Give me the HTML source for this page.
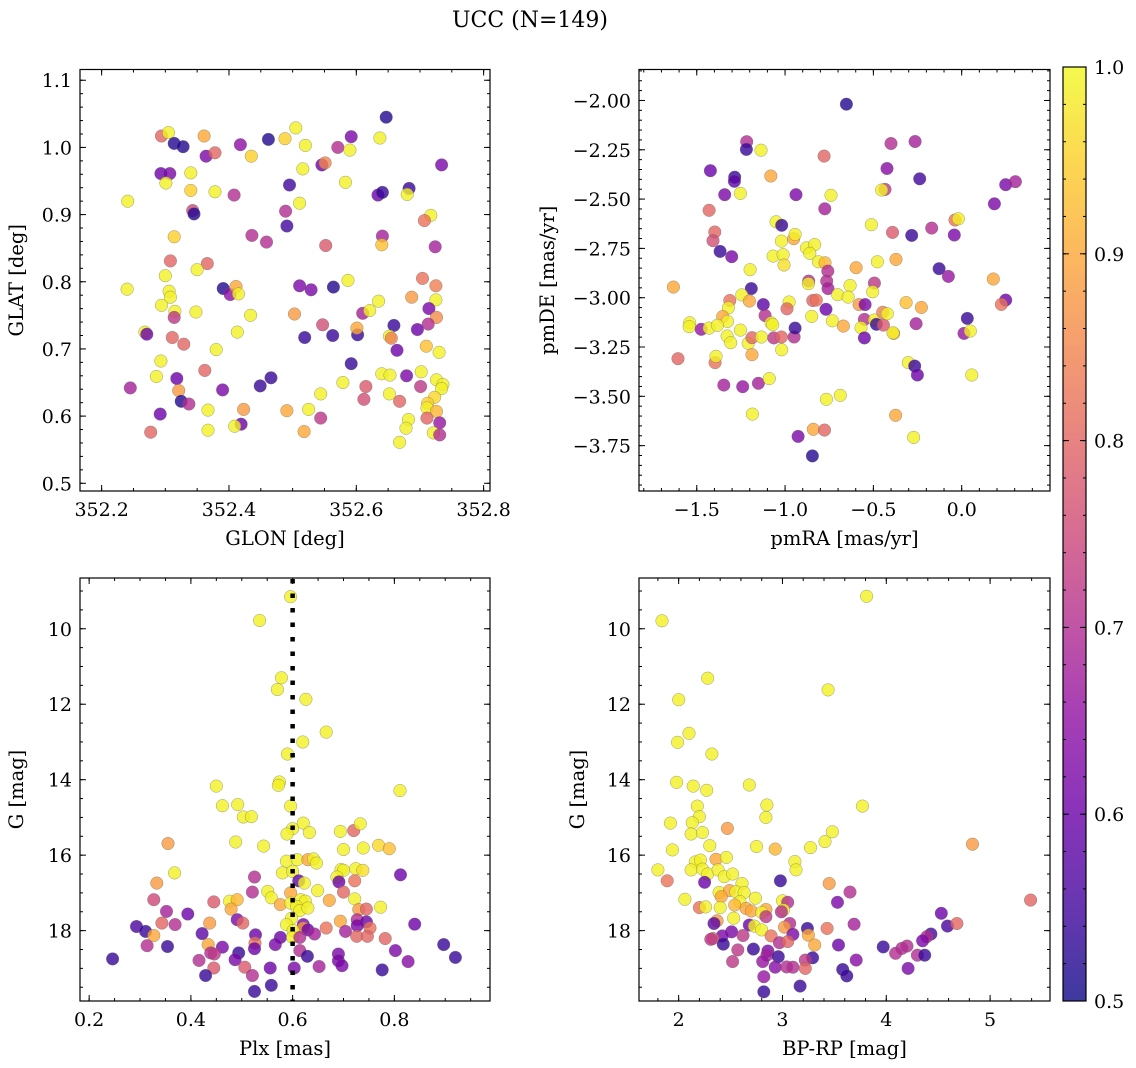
<!DOCTYPE html>
<html><head><meta charset="utf-8">
<style>
html,body{margin:0;padding:0;background:#fff;}
svg{display:block;font-family:"DejaVu Serif","Liberation Serif",serif;}
</style></head>
<body>
<svg id="fig" width="1136" height="1068" viewBox="0 0 1136 1068" xmlns="http://www.w3.org/2000/svg">
<defs>
<linearGradient id="plasma" x1="0" y1="1" x2="0" y2="0">
<stop offset="0" stop-color="#0d0887"/><stop offset="0.1" stop-color="#41049d"/><stop offset="0.2" stop-color="#6a00a8"/><stop offset="0.3" stop-color="#8f0da4"/><stop offset="0.4" stop-color="#b12a90"/><stop offset="0.5" stop-color="#cc4778"/><stop offset="0.6" stop-color="#e16462"/><stop offset="0.7" stop-color="#f2844b"/><stop offset="0.8" stop-color="#fca636"/><stop offset="0.9" stop-color="#fcce25"/><stop offset="1" stop-color="#f0f921"/>
</linearGradient>
</defs>
<text x="530" y="27" font-size="22" text-anchor="middle">UCC (N=149)</text>
</svg>
<script>
// ---- Panel 1: GLON vs GLAT ----
const p1Glon=[352.647,352.294,352.305,352.314,352.328,352.361,352.418,352.462,352.488,352.505,352.520,352.571,352.590,352.592,352.637,352.734,352.364,352.378,352.435,352.546,352.551,352.516,352.293,352.307,352.301,352.340,352.340,352.378,352.408,352.495,352.583,352.241,352.343,352.345,352.489,352.511,352.491,352.634,352.641,352.683,352.680,352.717,352.707,352.314,352.436,352.459,352.552,352.641,352.640,352.724,352.308,352.366,352.350,352.300,352.240,352.306,352.308,352.391,352.402,352.411,352.415,352.511,352.529,352.564,352.587,352.704,352.725,352.687,352.725,352.294,352.315,352.314,352.348,352.434,352.503,352.610,352.621,352.635,352.714,352.726,352.713,352.268,352.271,352.413,352.311,352.329,352.547,352.519,352.563,352.602,352.601,352.659,352.696,352.652,352.655,352.664,352.710,352.730,352.380,352.293,352.592,352.286,352.318,352.362,352.245,352.321,352.390,352.449,352.466,352.579,352.640,352.653,352.679,352.702,352.701,352.615,352.612,352.544,352.652,352.668,352.726,352.736,352.734,352.723,352.712,352.711,352.726,352.711,352.731,352.721,352.731,352.682,352.678,352.668,352.325,352.337,352.292,352.367,352.423,352.491,352.525,352.544,352.419,352.409,352.367,352.277,352.518];
const p1Glat=[1.045,1.017,1.022,1.006,1.001,1.017,1.004,1.012,1.013,1.029,1.003,1.000,0.996,1.016,1.014,0.974,0.987,0.992,0.987,0.974,0.977,0.968,0.961,0.961,0.947,0.962,0.936,0.934,0.929,0.944,0.948,0.920,0.906,0.901,0.905,0.917,0.883,0.929,0.933,0.939,0.930,0.899,0.891,0.867,0.869,0.859,0.854,0.868,0.855,0.852,0.831,0.827,0.818,0.809,0.789,0.786,0.777,0.790,0.781,0.793,0.782,0.794,0.788,0.792,0.802,0.805,0.794,0.777,0.773,0.765,0.756,0.747,0.755,0.750,0.752,0.753,0.757,0.771,0.760,0.747,0.737,0.725,0.722,0.725,0.717,0.707,0.736,0.717,0.720,0.721,0.731,0.735,0.729,0.719,0.716,0.698,0.704,0.695,0.699,0.682,0.678,0.659,0.656,0.668,0.642,0.638,0.639,0.645,0.657,0.650,0.663,0.661,0.660,0.666,0.644,0.644,0.625,0.633,0.633,0.622,0.654,0.647,0.641,0.628,0.619,0.612,0.607,0.597,0.590,0.575,0.572,0.595,0.582,0.561,0.622,0.618,0.603,0.609,0.610,0.608,0.610,0.597,0.588,0.585,0.579,0.576,0.577];
const p1Prob=[0.52,0.8,0.99,0.52,0.52,0.9,0.65,0.52,0.95,0.99,0.99,0.7,0.99,0.62,0.99,0.62,0.62,0.8,0.95,0.6,0.85,0.99,0.6,0.62,0.99,0.99,0.95,0.99,0.7,0.55,0.99,0.99,0.75,0.52,0.7,0.99,0.55,0.6,0.54,0.54,0.99,0.99,0.82,0.95,0.7,0.7,0.78,0.68,0.93,0.68,0.8,0.8,0.99,0.99,0.99,0.99,0.99,0.52,0.65,0.9,0.99,0.62,0.62,0.52,0.99,0.82,0.84,0.88,0.99,0.99,0.99,0.72,0.99,0.99,0.88,0.68,0.99,0.99,0.62,0.86,0.7,0.99,0.6,0.99,0.8,0.8,0.76,0.54,0.54,0.54,0.9,0.54,0.6,0.99,0.84,0.6,0.93,0.99,0.99,0.99,0.54,0.99,0.6,0.8,0.68,0.88,0.62,0.54,0.54,0.99,0.99,0.99,0.62,0.99,0.72,0.78,0.76,0.99,0.99,0.8,0.99,0.99,0.99,0.96,0.95,0.99,0.92,0.8,0.66,0.99,0.7,0.99,0.99,0.99,0.52,0.7,0.6,0.99,0.88,0.9,0.99,0.72,0.6,0.99,0.99,0.8,0.9];
// ---- Panel 2: pmRA vs pmDE ----
const p2Pmra=[-0.653,-1.217,-1.219,-1.136,-0.779,-0.400,-0.264,-1.423,-1.285,-1.287,-1.081,-0.423,-0.238,-1.342,-1.253,-0.938,-0.740,-0.434,-0.453,0.249,0.304,-1.430,-0.775,0.185,-1.051,-1.019,-1.398,-1.408,-0.511,-0.392,-0.283,-0.170,-0.042,-0.038,-0.019,-1.021,-0.951,-0.943,-1.368,-1.302,-1.068,-1.011,-1.006,-0.879,-0.832,-0.860,-0.811,-0.774,-0.758,-1.198,-0.477,-0.372,-0.598,-0.128,-0.075,0.179,-1.632,-1.191,-0.866,-0.868,-0.764,-0.757,-0.632,-0.494,-0.504,-0.702,-0.643,-1.245,-1.202,-1.313,-1.123,-0.977,-0.989,-0.843,-0.823,-0.768,-0.581,-0.547,-0.315,-0.228,0.249,0.225,-1.321,-1.353,-1.326,-1.113,-1.079,-1.070,-0.849,-0.732,-0.670,-0.551,-0.494,-0.483,-0.443,-0.447,-0.421,-0.258,0.032,0.013,0.049,-1.540,-1.543,-1.475,-1.430,-1.383,-1.253,-1.328,-1.308,-1.209,-1.187,-1.134,-1.064,-1.021,-0.949,-0.943,-1.019,-0.570,-0.551,-0.385,-0.389,-1.606,-1.396,-1.391,-1.187,-0.302,-0.266,-0.251,0.057,-1.347,-1.240,-1.151,-1.089,-1.185,-0.766,-0.687,-0.374,-0.926,-0.840,-0.777,-0.272,-0.845];
const p2Pmde=[-2.019,-2.209,-2.248,-2.252,-2.282,-2.218,-2.208,-2.356,-2.389,-2.410,-2.383,-2.345,-2.397,-2.478,-2.471,-2.478,-2.481,-2.451,-2.454,-2.427,-2.412,-2.557,-2.549,-2.524,-2.615,-2.633,-2.667,-2.711,-2.630,-2.669,-2.684,-2.647,-2.682,-2.606,-2.600,-2.713,-2.701,-2.679,-2.765,-2.792,-2.789,-2.782,-2.834,-2.747,-2.731,-2.775,-2.818,-2.823,-2.865,-2.858,-2.818,-2.806,-2.848,-2.853,-2.892,-2.905,-2.946,-2.954,-2.916,-2.929,-2.916,-2.954,-2.938,-2.926,-2.970,-2.985,-2.997,-2.986,-3.017,-3.014,-3.035,-3.022,-3.056,-3.014,-3.012,-3.059,-3.035,-3.035,-3.025,-3.049,-3.012,-3.034,-3.051,-3.096,-3.120,-3.090,-3.127,-3.137,-3.095,-3.117,-3.144,-3.110,-3.113,-3.135,-3.139,-3.074,-3.081,-3.132,-3.105,-3.181,-3.169,-3.127,-3.147,-3.160,-3.154,-3.140,-3.164,-3.194,-3.228,-3.231,-3.203,-3.199,-3.204,-3.199,-3.199,-3.154,-3.264,-3.152,-3.204,-3.181,-3.178,-3.309,-3.329,-3.297,-3.289,-3.329,-3.346,-3.392,-3.392,-3.443,-3.451,-3.434,-3.410,-3.590,-3.515,-3.495,-3.596,-3.703,-3.667,-3.671,-3.708,-3.802];
const p2Prob=[0.52,0.7,0.54,0.99,0.8,0.7,0.68,0.6,0.54,0.58,0.9,0.64,0.55,0.62,0.99,0.62,0.99,0.72,0.99,0.62,0.68,0.8,0.68,0.62,0.99,0.54,0.8,0.76,0.99,0.78,0.54,0.7,0.62,0.82,0.99,0.99,0.9,0.99,0.54,0.62,0.99,0.99,0.97,0.99,0.99,0.99,0.99,0.92,0.7,0.99,0.99,0.9,0.9,0.54,0.66,0.9,0.9,0.54,0.7,0.99,0.7,0.68,0.99,0.72,0.99,0.99,0.99,0.99,0.9,0.82,0.58,0.99,0.8,0.8,0.82,0.6,0.88,0.62,0.93,0.9,0.6,0.82,0.99,0.9,0.99,0.7,0.99,0.99,0.99,0.99,0.9,0.7,0.99,0.54,0.78,0.84,0.99,0.68,0.54,0.66,0.99,0.99,0.99,0.66,0.99,0.99,0.99,0.99,0.99,0.99,0.8,0.99,0.72,0.8,0.7,0.54,0.99,0.99,0.6,0.9,0.99,0.8,0.82,0.99,0.9,0.99,0.54,0.6,0.99,0.68,0.66,0.68,0.99,0.99,0.99,0.99,0.9,0.62,0.9,0.8,0.99,0.52];
// ---- Panel 3: Plx vs G ----
const p3Plx=[0.596,0.535,0.578,0.570,0.626,0.666,0.620,0.590,0.574,0.572,0.450,0.811,0.462,0.492,0.596,0.503,0.519,0.600,0.621,0.589,0.633,0.694,0.720,0.733,0.355,0.488,0.543,0.700,0.739,0.769,0.790,0.588,0.609,0.630,0.641,0.647,0.368,0.580,0.600,0.695,0.700,0.687,0.724,0.738,0.812,0.525,0.333,0.612,0.623,0.691,0.722,0.551,0.596,0.649,0.521,0.700,0.558,0.327,0.445,0.476,0.491,0.616,0.625,0.672,0.722,0.576,0.596,0.608,0.614,0.630,0.773,0.479,0.730,0.745,0.352,0.394,0.598,0.491,0.502,0.727,0.745,0.437,0.694,0.293,0.343,0.369,0.588,0.621,0.727,0.621,0.840,0.311,0.422,0.327,0.601,0.630,0.666,0.643,0.704,0.752,0.527,0.576,0.600,0.614,0.726,0.747,0.782,0.314,0.354,0.434,0.462,0.526,0.525,0.566,0.614,0.897,0.802,0.439,0.446,0.494,0.690,0.246,0.416,0.487,0.629,0.690,0.827,0.920,0.445,0.506,0.556,0.603,0.652,0.697,0.776,0.429,0.521,0.558,0.525];
const p3G=[9.15,9.78,11.30,11.61,11.87,12.74,13.00,13.32,14.06,14.15,14.17,14.29,14.69,14.66,14.70,14.99,14.98,15.30,15.15,15.44,15.40,15.37,15.35,15.17,15.69,15.65,15.76,15.85,15.81,15.74,15.83,16.16,16.12,16.12,16.10,16.21,16.47,16.47,16.43,16.38,16.40,16.58,16.36,16.40,16.52,16.58,16.74,16.68,16.74,16.71,16.68,16.96,17.00,16.94,16.98,16.98,17.13,17.18,17.24,17.22,17.18,17.18,17.22,17.20,17.16,17.31,17.27,17.36,17.47,17.40,17.38,17.43,17.44,17.43,17.49,17.56,17.67,17.71,17.80,17.71,17.77,17.80,17.75,17.89,17.80,17.84,17.84,17.84,17.87,17.93,17.83,18.02,18.08,18.13,18.00,17.98,17.93,18.09,18.02,17.93,18.11,18.18,18.18,18.18,18.15,18.15,18.21,18.40,18.42,18.37,18.44,18.33,18.48,18.37,18.53,18.37,18.53,18.59,18.62,18.59,18.62,18.75,18.79,18.77,18.68,18.80,18.82,18.71,18.99,18.97,18.99,18.99,18.95,18.93,19.04,19.19,19.19,19.45,19.61];
const p3Prob=[0.99,0.99,0.99,0.99,0.99,0.99,0.99,0.99,0.99,0.99,0.99,0.99,0.99,0.99,0.99,0.99,0.99,0.99,0.99,0.99,0.99,0.99,0.8,0.99,0.88,0.99,0.99,0.99,0.99,0.96,0.93,0.99,0.99,0.9,0.99,0.99,0.99,0.99,0.99,0.99,0.99,0.99,0.99,0.97,0.6,0.7,0.88,0.58,0.99,0.6,0.82,0.99,0.9,0.99,0.7,0.8,0.99,0.75,0.78,0.99,0.92,0.99,0.99,0.9,0.99,0.9,0.99,0.99,0.99,0.99,0.99,0.9,0.88,0.8,0.68,0.6,0.99,0.62,0.8,0.7,0.6,0.88,0.9,0.56,0.8,0.7,0.99,0.62,0.62,0.88,0.6,0.54,0.58,0.9,0.99,0.6,0.82,0.68,0.68,0.82,0.6,0.6,0.99,0.7,0.8,0.8,0.8,0.7,0.54,0.9,0.62,0.82,0.6,0.62,0.7,0.54,0.62,0.7,0.72,0.54,0.62,0.54,0.7,0.62,0.54,0.62,0.64,0.54,0.78,0.78,0.6,0.62,0.68,0.62,0.54,0.54,0.7,0.54,0.54];
// ---- Panel 4: BP-RP vs G ----
const p4Bprp=[3.81,1.84,2.28,3.44,2.00,2.10,1.99,2.32,1.98,2.14,2.68,2.27,2.85,3.77,2.18,2.20,1.92,2.13,2.84,2.47,2.12,2.23,3.48,3.41,1.94,2.30,2.75,2.93,3.27,4.83,2.36,2.46,2.16,2.21,3.12,3.13,1.80,2.12,2.23,2.28,2.38,2.44,2.52,1.89,2.25,2.98,3.45,2.61,2.39,2.49,2.55,2.63,3.65,2.06,2.41,2.59,2.74,3.00,3.05,3.53,5.39,2.20,2.26,2.40,2.54,2.65,2.70,2.84,2.80,3.01,2.99,4.53,2.53,2.37,2.34,2.68,2.84,2.73,3.07,3.02,3.69,4.59,4.68,3.24,3.43,2.80,3.10,2.51,2.42,2.62,2.89,3.25,2.33,2.31,4.43,4.39,4.35,2.43,2.97,3.05,3.31,3.54,3.97,4.20,4.15,4.09,2.57,2.72,2.86,2.85,2.96,3.29,3.22,4.30,4.37,2.81,2.52,3.71,2.93,3.04,3.10,3.22,3.58,4.21,3.62,2.82,3.17,2.82];
const p4G=[9.14,9.79,11.31,11.62,11.88,12.77,13.01,13.32,14.07,14.17,14.14,14.28,14.67,14.70,14.70,14.98,15.15,15.14,15.00,15.29,15.44,15.40,15.38,15.64,15.86,15.75,15.77,15.84,15.80,15.71,16.11,16.06,16.18,16.13,16.17,16.39,16.39,16.39,16.37,16.50,16.39,16.57,16.50,16.68,16.72,16.68,16.75,16.75,16.99,16.94,16.97,16.99,16.98,17.17,17.10,17.23,17.14,17.21,17.25,17.25,17.19,17.39,17.37,17.39,17.32,17.41,17.48,17.44,17.52,17.45,17.50,17.54,17.67,17.74,17.81,17.85,17.63,17.88,17.81,17.91,17.83,17.88,17.81,17.94,17.94,17.98,18.10,18.03,18.14,18.13,18.14,18.12,18.21,18.23,18.09,18.16,18.27,18.36,18.32,18.29,18.38,18.38,18.43,18.41,18.47,18.60,18.51,18.49,18.54,18.65,18.69,18.72,18.78,18.65,18.65,18.82,18.82,18.78,18.97,18.96,18.97,19.00,19.03,19.00,19.20,19.22,19.47,19.62];
const p4Prob=[0.99,0.99,0.99,0.99,0.99,0.99,0.99,0.99,0.99,0.99,0.99,0.99,0.99,0.99,0.99,0.99,0.99,0.99,0.99,0.88,0.99,0.99,0.99,0.99,0.99,0.99,0.99,0.92,0.99,0.88,0.9,0.99,0.99,0.99,0.99,0.99,0.99,0.99,0.99,0.99,0.99,0.99,0.99,0.82,0.6,0.54,0.88,0.99,0.99,0.9,0.99,0.99,0.7,0.99,0.9,0.99,0.99,0.99,0.7,0.62,0.8,0.82,0.99,0.99,0.92,0.9,0.9,0.9,0.99,0.99,0.7,0.6,0.99,0.88,0.58,0.6,0.72,0.99,0.7,0.88,0.68,0.56,0.8,0.54,0.82,0.99,0.62,0.62,0.62,0.72,0.82,0.9,0.8,0.72,0.55,0.7,0.62,0.54,0.7,0.8,0.9,0.6,0.54,0.7,0.7,0.7,0.72,0.54,0.62,0.68,0.54,0.54,0.72,0.7,0.54,0.66,0.72,0.64,0.64,0.7,0.7,0.8,0.54,0.62,0.54,0.66,0.54,0.54];

const NS="http://www.w3.org/2000/svg";
const svg=document.getElementById('fig');
const stops=[[0,"#0d0887"],[0.1,"#41049d"],[0.2,"#6a00a8"],[0.3,"#8f0da4"],[0.4,"#b12a90"],[0.5,"#cc4778"],[0.6,"#e16462"],[0.7,"#f2844b"],[0.8,"#fca636"],[0.9,"#fcce25"],[1,"#f0f921"]];
function hx(c){return [parseInt(c.slice(1,3),16),parseInt(c.slice(3,5),16),parseInt(c.slice(5,7),16)];}
function plasma(v){let t=Math.max(0,Math.min(1,(v-0.5)/0.5));for(let i=0;i<stops.length-1;i++){if(t<=stops[i+1][0]){const a=hx(stops[i][1]),b=hx(stops[i+1][1]);const f=(t-stops[i][0])/(stops[i+1][0]-stops[i][0]);return 'rgb('+a.map((x,k)=>Math.round(x+(b[k]-x)*f)).join(',')+')';}}return stops[10][1];}
function mk(tag,attrs,parent){const e=document.createElementNS(NS,tag);for(const k in attrs)e.setAttribute(k,attrs[k]);(parent||svg).appendChild(e);return e;}
function fmt(v,d){const s=Math.abs(v).toFixed(d);return (v< -1e-9?'\u2212':'')+s;}

function panel(cfg){
  const g=mk('g',{});
  
  
  const L=cfg.box[0],T=cfg.box[1],R=cfg.box[2],B=cfg.box[3];
  const sx=v=>L+(v-cfg.xd[0])/(cfg.xd[1]-cfg.xd[0])*(R-L);
  const sy=cfg.yinv?(v=>T+(v-cfg.yd[0])/(cfg.yd[1]-cfg.yd[0])*(B-T)):(v=>B-(v-cfg.yd[0])/(cfg.yd[1]-cfg.yd[0])*(B-T));
  const pts=mk('g',{},g);
  
  
  for(let i=0;i<cfg.xs.length;i++){
    const c=mk('circle',{cx:sx(cfg.xs[i]).toFixed(1),cy:sy(cfg.ys[i]).toFixed(1),r:6.3,fill:plasma(cfg.cs[i]),'fill-opacity':0.8,stroke:'#666','stroke-width':0.4,'stroke-opacity':0.8},pts);
    
    
  }
  if(cfg.vline!==undefined){
    const l=mk('line',{x1:sx(cfg.vline),x2:sx(cfg.vline),y1:T+1,y2:B,stroke:'#000','stroke-width':4.5,'stroke-dasharray':'4.5 10'},g);
    
    
  }
  const fr=mk('rect',{x:L,y:T,width:R-L,height:B-T,fill:'none',stroke:'#000','stroke-width':1.2},g);
  
  
  const tk=mk('g',{stroke:'#000','stroke-width':1},g);
  
  
  const eps=1e-9;
  for(let v=Math.ceil(cfg.xd[0]/cfg.xmin-eps)*cfg.xmin;v<=cfg.xd[1]+eps;v+=cfg.xmin){const x=sx(v);mk('line',{x1:x,x2:x,y1:B,y2:B-3},tk);mk('line',{x1:x,x2:x,y1:T,y2:T+3},tk);}
  for(let v=Math.ceil(cfg.yd[0]/cfg.ymin-eps)*cfg.ymin;v<=cfg.yd[1]+eps;v+=cfg.ymin){const y=sy(v);mk('line',{x1:L,x2:L+3,y1:y,y2:y},tk);mk('line',{x1:R,x2:R-3,y1:y,y2:y},tk);}
  cfg.xticks.forEach((v,i)=>{const x=sx(v);mk('line',{x1:x,x2:x,y1:B,y2:B-6},tk);mk('line',{x1:x,x2:x,y1:T,y2:T+6},tk);
    const t=mk('text',{x:x,y:B+25,'font-size':19,'text-anchor':'middle'},g);t.textContent=cfg.xlabels[i];
    
    });
  cfg.yticks.forEach((v,i)=>{const y=sy(v);mk('line',{x1:L,x2:L+6,y1:y,y2:y},tk);mk('line',{x1:R,x2:R-6,y1:y,y2:y},tk);
    const t=mk('text',{x:L-8,y:y+7,'font-size':19,'text-anchor':'end'},g);t.textContent=cfg.ylabels[i];
    
    });
  const xt=mk('text',{x:(L+R)/2,y:B+54,'font-size':19.5,'text-anchor':'middle'},g);xt.textContent=cfg.xtitle;
  
  
  const yx=cfg.ytx, ym=(T+B)/2;
  const yt=mk('text',{x:yx,y:ym,'font-size':19.5,'text-anchor':'middle',transform:'rotate(-90 '+yx+' '+ym+')'},g);yt.textContent=cfg.ytitle;
  
  
}
const p1XT=[352.2,352.4,352.6,352.8], p1YT=[0.5,0.6,0.7,0.8,0.9,1.0,1.1];
const p2XT=[-1.5,-1.0,-0.5,0.0], p2YT=[-3.75,-3.5,-3.25,-3.0,-2.75,-2.5,-2.25,-2.0];
const p3XT=[0.2,0.4,0.6,0.8], gYT=[10,12,14,16,18];
const p4XT=[2,3,4,5];
panel({name:'glon-glat-panel',box:[80,69.5,490,491],xd:[352.166,352.81],yd:[0.4885,1.116],xs:p1Glon,ys:p1Glat,cs:p1Prob,
  xticks:p1XT,xlabels:p1XT.map(v=>v.toFixed(1)),yticks:p1YT,ylabels:p1YT.map(v=>v.toFixed(1)),xmin:0.05,ymin:0.02,xtitle:'GLON [deg]',ytitle:'GLAT [deg]',ytx:23});
panel({name:'pm-panel',box:[639,69.5,1050,491],xd:[-1.827,0.5],yd:[-3.98,-1.843],xs:p2Pmra,ys:p2Pmde,cs:p2Prob,
  xticks:p2XT,xlabels:p2XT.map(v=>fmt(v,1)),yticks:p2YT,ylabels:p2YT.map(v=>fmt(v,2)),xmin:0.1,ymin:0.05,xtitle:'pmRA [mas/yr]',ytitle:'pmDE [mas/yr]',ytx:554});
panel({name:'plx-g-panel',box:[80,578,490,1001],xd:[0.182,0.988],yd:[8.655,19.865],yinv:true,xs:p3Plx,ys:p3G,cs:p3Prob,vline:0.6,
  xticks:p3XT,xlabels:p3XT.map(v=>v.toFixed(1)),yticks:gYT,ylabels:gYT.map(String),xmin:0.05,ymin:0.5,xtitle:'Plx [mas]',ytitle:'G [mag]',ytx:23});
panel({name:'cmd-panel',box:[639,578,1050,1001],xd:[1.618,5.577],yd:[8.655,19.865],yinv:true,xs:p4Bprp,ys:p4G,cs:p4Prob,
  xticks:p4XT,xlabels:p4XT.map(String),yticks:gYT,ylabels:gYT.map(String),xmin:0.2,ymin:0.5,xtitle:'BP-RP [mag]',ytitle:'G [mag]',ytx:584});
const cbTicks=[0.5,0.6,0.7,0.8,0.9,1.0];
(function(){
  const g=mk('g',{});
  
  
  const L=1063,R=1086,T=67,B=1001;
  const cy=v=>B-(v-0.5)/0.5*(B-T);
  mk('rect',{x:L,y:T,width:R-L,height:B-T,fill:'url(#plasma)','fill-opacity':0.8},g);
  mk('rect',{x:L,y:T,width:R-L,height:B-T,fill:'none',stroke:'#000','stroke-width':1.2},g);
  for(let v=0.5;v<=1.0001;v+=0.02){const y=cy(v);mk('line',{x1:R,x2:R-3,y1:y,y2:y,stroke:'#000'},g);mk('line',{x1:L,x2:L+3,y1:y,y2:y,stroke:'#000'},g);}
  cbTicks.forEach(v=>{const y=cy(v);mk('line',{x1:R,x2:R-6,y1:y,y2:y,stroke:'#000'},g);mk('line',{x1:L,x2:L+6,y1:y,y2:y,stroke:'#000'},g);
    const t=mk('text',{x:R+8,y:y+7,'font-size':19},g);t.textContent=v.toFixed(1);
    
    });
})();
</script>
</body></html>
